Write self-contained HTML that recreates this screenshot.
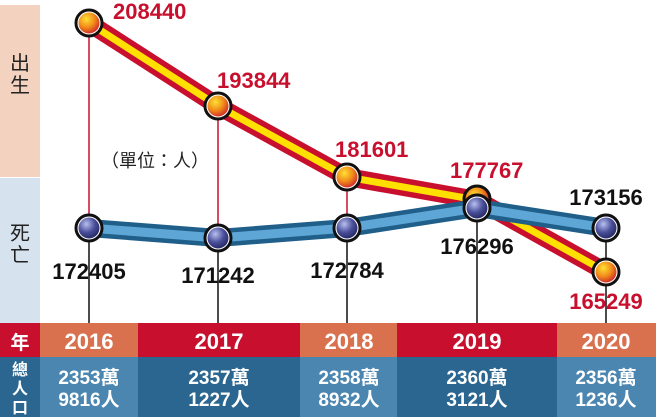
<!DOCTYPE html><html><head><meta charset="utf-8"><style>body{margin:0}svg{display:block}text{font-family:"Liberation Sans","Noto Sans CJK TC",sans-serif;font-weight:bold}</style></head><body>
<svg width="656" height="417" viewBox="0 0 656 417">
<defs>
<radialGradient id="o" cx="40%" cy="35%" r="65%"><stop offset="0" stop-color="#ffe033"/><stop offset="0.5" stop-color="#f08a1a"/><stop offset="1" stop-color="#c8102e"/></radialGradient>
<radialGradient id="b" cx="40%" cy="35%" r="65%"><stop offset="0" stop-color="#b8c0f0"/><stop offset="0.5" stop-color="#4a4f9a"/><stop offset="1" stop-color="#1c1f55"/></radialGradient>
</defs>
<rect width="656" height="417" fill="#fff"/>
<rect x="0" y="5" width="40" height="172" fill="#f3d3c0"/>
<rect x="0" y="178" width="40" height="145" fill="#d6e3ef"/>
<text x="20" y="70" font-size="20" text-anchor="middle" fill="#222" style="font-weight:normal">出</text>
<text x="20" y="92" font-size="20" text-anchor="middle" fill="#222" style="font-weight:normal">生</text>
<text x="20" y="240" font-size="20" text-anchor="middle" fill="#222" style="font-weight:normal">死</text>
<text x="20" y="262" font-size="20" text-anchor="middle" fill="#222" style="font-weight:normal">亡</text>
<text x="155" y="167" font-size="18" text-anchor="middle" fill="#222" style="font-weight:normal">（單位：人）</text>
<g stroke-width="1.5">
<line x1="89" y1="23" x2="89" y2="228" stroke="#c8102e"/><line x1="89" y1="228" x2="89" y2="323" stroke="#111"/>
<line x1="218" y1="106" x2="218" y2="238" stroke="#c8102e"/><line x1="218" y1="238" x2="218" y2="323" stroke="#111"/>
<line x1="347" y1="177" x2="347" y2="228" stroke="#c8102e"/><line x1="347" y1="228" x2="347" y2="323" stroke="#111"/>
<line x1="477" y1="208" x2="477" y2="323" stroke="#111"/>
<line x1="606" y1="228" x2="606" y2="323" stroke="#111"/>
</g>
<polyline points="89,23 218,106 347,177 477,200 606,272" fill="none" stroke="#c8102e" stroke-width="18" stroke-linejoin="round"/>
<polyline points="89,23 218,106 347,177 477,200 606,272" fill="none" stroke="#ffe000" stroke-width="7" stroke-linejoin="round"/>
<polyline points="89,228 218,238 347,228 477,208 606,228" fill="none" stroke="#1f5f8a" stroke-width="18" stroke-linejoin="round"/>
<polyline points="89,228 218,238 347,228 477,208 606,228" fill="none" stroke="#5ea6d6" stroke-width="9" stroke-linejoin="round"/>
<g stroke="#111" stroke-width="3">
<circle cx="89" cy="23" r="13" fill="url(#o)"/><circle cx="218" cy="106" r="13" fill="url(#o)"/><circle cx="347" cy="177" r="13" fill="url(#o)"/><circle cx="477" cy="199" r="13" fill="url(#o)"/><circle cx="606" cy="272" r="13" fill="url(#o)"/>
<circle cx="89" cy="228" r="13" fill="url(#b)"/><circle cx="218" cy="238" r="13" fill="url(#b)"/><circle cx="347" cy="228" r="13" fill="url(#b)"/><circle cx="477" cy="208" r="13" fill="url(#b)"/><circle cx="606" cy="228" r="13" fill="url(#b)"/>
</g>
<g stroke="#fff" stroke-width="1" fill="none"><circle cx="89" cy="23" r="11"/><circle cx="218" cy="106" r="11"/><circle cx="347" cy="177" r="11"/><circle cx="606" cy="272" r="11"/><circle cx="89" cy="228" r="11"/><circle cx="218" cy="238" r="11"/><circle cx="347" cy="228" r="11"/><circle cx="477" cy="208" r="11"/><circle cx="606" cy="228" r="11"/></g>
<g font-size="22" fill="#c8102e">
<text x="113" y="19">208440</text><text x="217" y="88">193844</text><text x="335" y="157">181601</text><text x="450" y="178">177767</text><text x="606" y="309" text-anchor="middle">165249</text>
</g>
<g font-size="22" fill="#111" text-anchor="middle">
<text x="89" y="279">172405</text><text x="218" y="283">171242</text><text x="347" y="278">172784</text><text x="477" y="254">176296</text><text x="606" y="205">173156</text>
</g>
<rect x="0" y="323" width="40" height="34" fill="#c8102e"/>
<rect x="40" y="323" width="98" height="34" fill="#d9714e"/>
<rect x="138" y="323" width="162" height="34" fill="#c8102e"/>
<rect x="300" y="323" width="97" height="34" fill="#d9714e"/>
<rect x="397" y="323" width="160" height="34" fill="#c8102e"/>
<rect x="557" y="323" width="99" height="34" fill="#d9714e"/>
<rect x="0" y="357" width="40" height="60" fill="#2a6690"/>
<rect x="40" y="357" width="98" height="60" fill="#4a86b0"/>
<rect x="138" y="357" width="162" height="60" fill="#2a6690"/>
<rect x="300" y="357" width="97" height="60" fill="#4a86b0"/>
<rect x="397" y="357" width="160" height="60" fill="#2a6690"/>
<rect x="557" y="357" width="99" height="60" fill="#4a86b0"/>
<g fill="#fff" text-anchor="middle">
<text x="20" y="349" font-size="19">年</text>
<text x="20" y="375" font-size="16">總</text><text x="20" y="394" font-size="16">人</text><text x="20" y="413" font-size="16">口</text>
<g font-size="22"><text x="89" y="349">2016</text><text x="219" y="349">2017</text><text x="349" y="349">2018</text><text x="477" y="349">2019</text><text x="606" y="349">2020</text></g>
<g font-size="19"><text x="89" y="384">2353萬</text><text x="89" y="406">9816人</text>
<text x="219" y="384">2357萬</text><text x="219" y="406">1227人</text>
<text x="349" y="384">2358萬</text><text x="349" y="406">8932人</text>
<text x="477" y="384">2360萬</text><text x="477" y="406">3121人</text>
<text x="606" y="384">2356萬</text><text x="606" y="406">1236人</text></g>
</g>
</svg></body></html>
